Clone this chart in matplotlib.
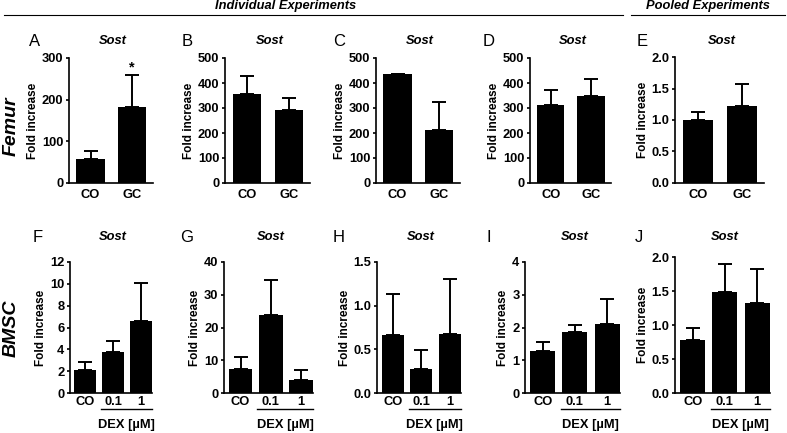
import numpy as np
import matplotlib
matplotlib.use("Agg")
import matplotlib.pyplot as plt

plt.rcParams.update({
    "font.family": ["Liberation Sans", "DejaVu Sans"],
    "font.size": 9.3,
    "axes.linewidth": 1.2,
    "ytick.major.width": 1.2,
    "ytick.major.size": 2.5,
    "ytick.major.pad": 1.5,
})

W, H = 787, 433
FS = 9.3

# data (mean, upper error)
femur_groups = ["CO", "GC"]
bmsc_groups = ["CO", "0.1", "1"]

a_mean = [57, 183];   a_err = [20, 77]
b_mean = [357, 293];  b_err = [70, 47]
c_mean = [435, 212];  c_err = [0, 110]
d_mean = [310, 347];  d_err = [60, 71]
e_mean = [1.00, 1.22]; e_err = [0.12, 0.35]

f_mean = [2.15, 3.8, 6.6];    f_err = [0.65, 1.0, 3.5]
g_mean = [7.3, 23.8, 4.1];    g_err = [3.7, 10.6, 3.0]
h_mean = [0.66, 0.28, 0.68];  h_err = [0.47, 0.21, 0.63]
i_mean = [1.28, 1.85, 2.10];  i_err = [0.29, 0.23, 0.78]
j_mean = [0.78, 1.48, 1.33];  j_err = [0.17, 0.42, 0.49]

# panel letter, mean, err, groups, yticks, axes box in pixels (left, right, top, bottom)
panels = [
    ("A", a_mean, a_err, femur_groups, [0, 100, 200, 300], (69, 153, 58, 183)),
    ("B", b_mean, b_err, femur_groups, [0, 100, 200, 300, 400, 500], (225, 310, 58, 183)),
    ("C", c_mean, c_err, femur_groups, [0, 100, 200, 300, 400, 500], (376, 460, 58, 183)),
    ("D", d_mean, d_err, femur_groups, [0, 100, 200, 300, 400, 500], (530, 611, 58, 183)),
    ("E", e_mean, e_err, femur_groups, [0.0, 0.5, 1.0, 1.5, 2.0], (675, 764, 57, 183)),
    ("F", f_mean, f_err, bmsc_groups, [0, 2, 4, 6, 8, 10, 12], (70, 152, 262, 393)),
    ("G", g_mean, g_err, bmsc_groups, [0, 10, 20, 30, 40], (224, 313, 262, 393)),
    ("H", h_mean, h_err, bmsc_groups, [0.0, 0.5, 1.0, 1.5], (377, 461, 262, 393)),
    ("I", i_mean, i_err, bmsc_groups, [0, 1, 2, 3, 4], (525, 620, 262, 393)),
    ("J", j_mean, j_err, bmsc_groups, [0.0, 0.5, 1.0, 1.5, 2.0], (675, 770, 257, 393)),
]
letter_x = {"A": 29, "B": 182, "C": 333, "D": 483, "E": 637,
            "F": 33, "G": 180, "H": 333, "I": 487, "J": 635}
star_panel = "A"
star_group = 1


def fx(px):
    return px / W


def fy(py):
    return 1 - py / H


fig = plt.figure(figsize=(W / 100, H / 100), dpi=100)

for letter, mean, err, groups, yticks, (l, r, t, b) in panels:
    ax = fig.add_axes([fx(l), fy(b), fx(r) - fx(l), fy(t) - fy(b)])
    n = len(groups)
    x = np.arange(n)
    width = 0.68 if n == 2 else 0.78
    xlim = (-0.52, 1.5) if n == 2 else (-0.55, 2.4)
    ax.bar(x, mean, width=width, color="black", zorder=2)
    ax.errorbar(x, mean, yerr=[np.zeros(n), err], fmt="none", ecolor="black",
                elinewidth=1.4, capsize=5, capthick=1.4, zorder=1)
    ax.set_xlim(*xlim)
    ax.set_ylim(yticks[0], yticks[-1])
    ax.set_yticks(yticks)
    if isinstance(yticks[1], float):
        ax.set_yticklabels([f"{v:.1f}" for v in yticks], fontweight="bold", fontsize=FS)
    else:
        ax.set_yticklabels([str(v) for v in yticks], fontweight="bold", fontsize=FS)
    ax.set_xticks(x)
    ax.set_xticklabels(groups, fontsize=FS, fontweight="bold")
    ax.tick_params(axis="x", length=0, pad=4 if n == 2 else 2.5)
    for side in ("top", "right"):
        ax.spines[side].set_visible(False)
    ax.set_ylabel("Fold increase", fontsize=8.5, fontweight="bold", labelpad=2)
    ax.patch.set_alpha(0)

    # panel letter and gene title
    ty = 41 if t < 200 else 237
    fig.text(fx(letter_x[letter]), fy(ty), letter, fontsize=12, fontweight="normal",
             ha="left", va="center")
    fig.text(fx((l + r) / 2 + 2), fy(ty), "Sost", fontsize=FS, style="italic",
             fontweight="bold", ha="center", va="center")

    if letter == star_panel:
        ax.text(x[star_group], mean[star_group] + err[star_group], "*",
                ha="center", va="bottom", fontsize=10.5, fontweight="bold")

    if n == 3:
        # DEX bracket under the treated groups
        def dpx(v):
            return l + (v - xlim[0]) / (xlim[1] - xlim[0]) * (r - l)
        x0 = dpx(x[1] - width / 2 - 0.05)
        x1 = dpx(x[2] + width / 2)
        fig.add_artist(plt.Line2D([fx(x0), fx(x1)], [fy(409), fy(409)],
                                  color="black", lw=1.0))
        fig.text(fx((x0 + x1) / 2), fy(425), "DEX [µM]", fontsize=FS,
                 fontweight="bold", ha="center", va="center")

# header lines
fig.add_artist(plt.Line2D([fx(4), fx(623)], [fy(15), fy(15)], color="black", lw=0.8))
fig.add_artist(plt.Line2D([fx(631), fx(785)], [fy(15), fy(15)], color="black", lw=0.8))
fig.text(fx(286), fy(6), "Individual Experiments", style="italic", fontsize=FS,
         fontweight="bold", ha="center", va="center")
fig.text(fx(708), fy(6), "Pooled Experiments", style="italic", fontsize=FS,
         fontweight="bold", ha="center", va="center")

# row labels
fig.text(fx(11), fy(126), "Femur", rotation=90, style="italic", fontsize=14,
         fontweight="bold", ha="center", va="center")
fig.text(fx(11), fy(328), "BMSC", rotation=90, style="italic", fontsize=14,
         fontweight="bold", ha="center", va="center")

fig.savefig("out.png", dpi=100)
